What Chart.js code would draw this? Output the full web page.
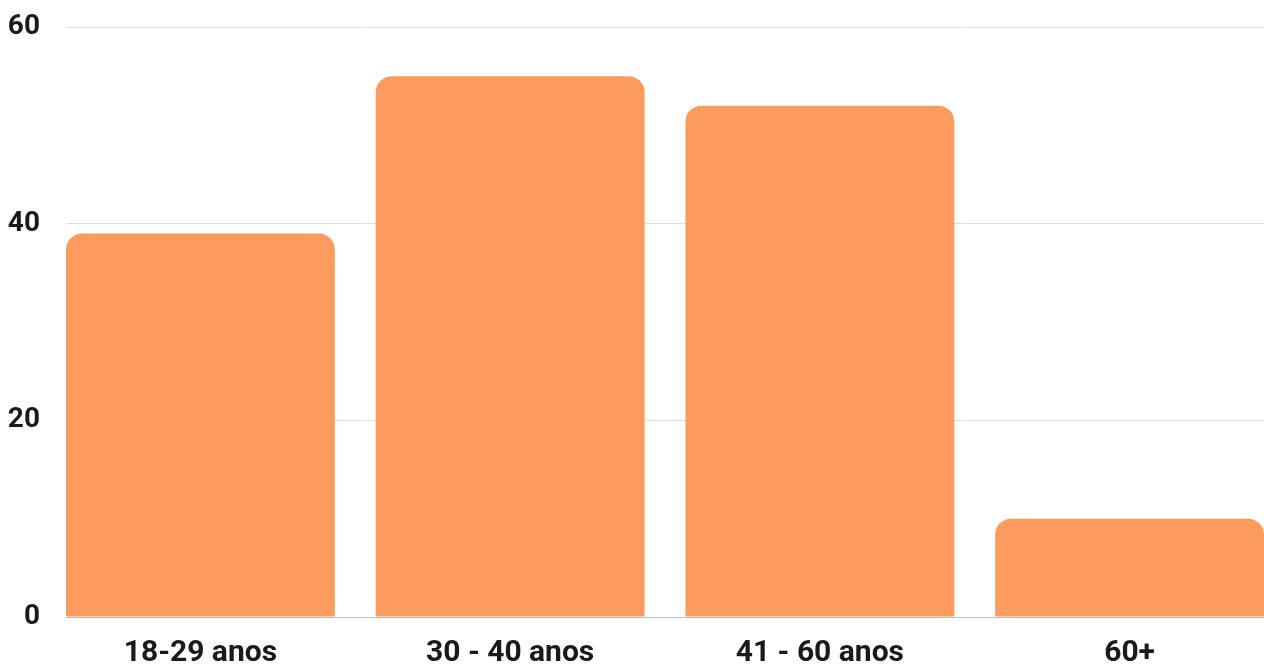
<!DOCTYPE html>
<html>
<head>
<meta charset="utf-8">
<script src="https://cdn.jsdelivr.net/npm/chart.js@4.4.1/dist/chart.umd.min.js"></script>
<style>
  html, body { margin: 0; padding: 0; background: #ffffff; overflow: hidden; }
  #wrap { position: relative; width: 1264px; height: 666px; }
</style>
</head>
<body>
<div id="wrap"><canvas id="ageChart"></canvas></div>
<script>
// faixas etárias e contagens
const categories = ["18-29 anos", "30 - 40 anos", "41 - 60 anos", "60+"];
const counts = [39, 55, 52, 10];
const yTicks = [0, 20, 40, 60];

const barColor = "#fd9b5f";

document.addEventListener("DOMContentLoaded", function () {
    const ctx = document.getElementById("ageChart").getContext("2d");

    new Chart(ctx, {
        type: "bar",
        data: {
            datasets: [{
                data: counts.map((v, i) => ({ x: i, y: v })),
                backgroundColor: barColor,
                borderWidth: 0,
                borderRadius: { topLeft: 16, topRight: 16, bottomLeft: 0, bottomRight: 0 },
                borderSkipped: "start",
                barPercentage: 0.868,
                categoryPercentage: 1
            }]
        },
        options: {
            responsive: true,
            maintainAspectRatio: false,
            animation: false,
            layout: { padding: 0 },
            plugins: {
                legend: { display: false },
                tooltip: { enabled: false }
            },
            scales: {
                x: {
                    type: "linear",
                    offset: false,
                    min: -0.434,
                    max: 3.434,
                    afterBuildTicks: function (scale) {
                        scale.ticks = categories.map((c, i) => ({ value: i }));
                    },
                    afterFit: function (scale) { scale.height = 49; },
                    grid: { display: false },
                    border: { display: false },
                    ticks: {
                        autoSkip: false,
                        maxRotation: 0,
                        padding: 10,
                        color: "#1a1a1a",
                        font: { family: "Roboto", weight: "bold", size: 30 },
                        callback: function (value) { return categories[value]; }
                    }
                },
                y: {
                    min: 0,
                    max: 60,
                    afterBuildTicks: function (scale) {
                        scale.ticks = yTicks.map(v => ({ value: v }));
                    },
                    afterFit: function (scale) {
                        scale.width = 66;
                        // keep the top gridline close to the canvas edge
                        scale.paddingTop = 27;
                    },
                    border: { display: false },
                    grid: {
                        drawTicks: false,
                        lineWidth: 1,
                        color: c => c.tick && c.tick.value === 0 ? "#bdbdbd" : "#dedede"
                    },
                    ticks: {
                        padding: 26,
                        color: "#1a1a1a",
                        font: { family: "Roboto", weight: "bold", size: 28 }
                    }
                }
            }
        }
    });
});
</script>
</body>
</html>
